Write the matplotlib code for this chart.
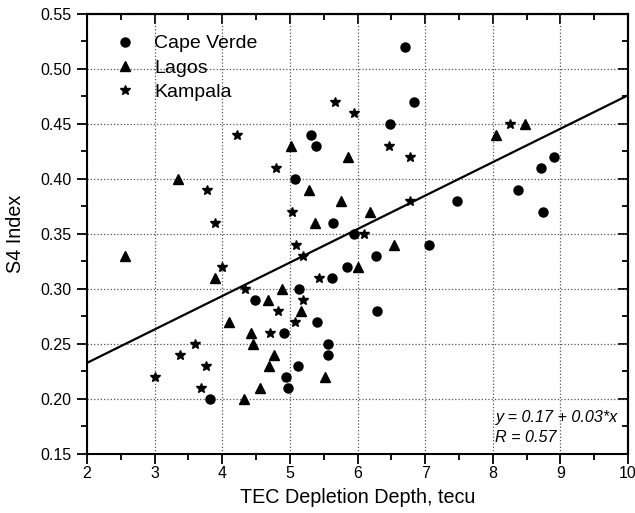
import numpy as np
import matplotlib
matplotlib.use('Agg')
import matplotlib.pyplot as plt
from matplotlib.ticker import MultipleLocator

plt.rcParams['font.family'] = ['Liberation Sans', 'DejaVu Sans']

# Cape Verde (circles)
cv_x = [6.70, 6.83, 6.48, 5.31, 5.38, 5.07, 8.90, 8.71, 8.38, 7.47, 8.74, 7.06, 5.64, 5.95,
        6.27, 5.85, 5.62, 5.14, 4.49, 6.29, 5.40, 4.91, 5.56, 5.56, 5.12, 4.94, 4.97, 3.82]
cv_y = [0.52, 0.47, 0.45, 0.44, 0.43, 0.40, 0.42, 0.41, 0.39, 0.38, 0.37, 0.34, 0.36, 0.35,
        0.33, 0.32, 0.31, 0.30, 0.29, 0.28, 0.27, 0.26, 0.25, 0.24, 0.23, 0.22, 0.21, 0.20]

# Lagos (triangles)
lg_x = [5.02, 5.86, 3.35, 8.05, 8.48, 2.56, 3.90, 4.10, 4.42, 5.29, 5.75, 6.19, 5.37, 6.54,
        6.00, 4.88, 4.67, 5.16, 4.45, 4.77, 4.69, 5.52, 4.56, 4.32]
lg_y = [0.43, 0.42, 0.40, 0.44, 0.45, 0.33, 0.31, 0.27, 0.26, 0.39, 0.38, 0.37, 0.36, 0.34,
        0.32, 0.30, 0.29, 0.28, 0.25, 0.24, 0.23, 0.22, 0.21, 0.20]

# Kampala (stars)
kp_x = [5.67, 5.95, 6.46, 6.77, 4.79, 4.22, 8.26, 3.78, 3.90, 3.99, 4.34, 5.03, 6.78, 6.09,
        5.09, 5.19, 5.43, 5.19, 4.83, 5.08, 4.71, 3.60, 3.37, 3.76, 3.00, 3.69]
kp_y = [0.47, 0.46, 0.43, 0.42, 0.41, 0.44, 0.45, 0.39, 0.36, 0.32, 0.30, 0.37, 0.38, 0.35,
        0.34, 0.33, 0.31, 0.29, 0.28, 0.27, 0.26, 0.25, 0.24, 0.23, 0.22, 0.21]

# linear fit shown in the figure
fit_intercept = 0.172
fit_slope = 0.0304
fit_xrange = [2, 10]

fig = plt.figure(figsize=(6.35, 5.13), dpi=100)
ax = fig.add_axes([0.137, 0.115, 0.852, 0.858])

ax.plot(cv_x, cv_y, 'o', color='black', ms=6.5, label='Cape Verde', zorder=3)
ax.plot(lg_x, lg_y, '^', color='black', ms=6.5, label='Lagos', zorder=3)
ax.plot(kp_x, kp_y, '*', color='black', ms=7, label='Kampala', zorder=3)

fx = np.array(fit_xrange)
ax.plot(fx, fit_intercept + fit_slope * fx, color='black', lw=1.6, zorder=2)

ax.set_xlim(2, 10)
ax.set_ylim(0.15, 0.55)
ax.xaxis.set_major_locator(MultipleLocator(1))
ax.xaxis.set_minor_locator(MultipleLocator(0.5))
ax.yaxis.set_major_locator(MultipleLocator(0.05))
ax.yaxis.set_minor_locator(MultipleLocator(0.025))
ax.yaxis.set_major_formatter(plt.FormatStrFormatter('%.2f'))
ax.tick_params(which='both', direction='out', labelsize=11.5, width=1.3, pad=4)
ax.tick_params(axis='x', which='both', pad=1.5)
ax.tick_params(which='major', length=7)
ax.tick_params(which='minor', length=4)

# mirrored ticks on top and right point inwards
top = ax.secondary_xaxis('top')
top.xaxis.set_major_locator(MultipleLocator(1))
top.xaxis.set_minor_locator(MultipleLocator(0.5))
top.tick_params(which='both', direction='in', labeltop=False, width=1.3)
top.tick_params(which='major', length=7)
top.tick_params(which='minor', length=4)
right = ax.secondary_yaxis('right')
right.yaxis.set_major_locator(MultipleLocator(0.05))
right.yaxis.set_minor_locator(MultipleLocator(0.025))
right.tick_params(which='both', direction='in', labelright=False, width=1.3)
right.tick_params(which='major', length=7)
right.tick_params(which='minor', length=4)

for s in list(ax.spines.values()) + [top.spines['top'], right.spines['right']]:
    s.set_linewidth(1.5)
ax.grid(True, which='major', linestyle=':', color='#555555', lw=0.9)

ax.set_xlabel('TEC Depletion Depth, tecu', fontsize=14.2, labelpad=5)
ax.set_ylabel('S4 Index', fontsize=14.2, labelpad=11)

ax.legend(loc='upper left', bbox_to_anchor=(0.029, 0.970), borderaxespad=0, frameon=False,
          fontsize=14, handletextpad=0.75, labelspacing=0.35, handlelength=1.5)

ax.text(0.755, 0.082, 'y = 0.17 + 0.03*x', transform=ax.transAxes, style='italic',
        fontsize=11.6, va='center')
ax.text(0.755, 0.038, 'R = 0.57', transform=ax.transAxes, style='italic',
        fontsize=11.6, va='center')

plt.savefig('out.png', dpi=100)
